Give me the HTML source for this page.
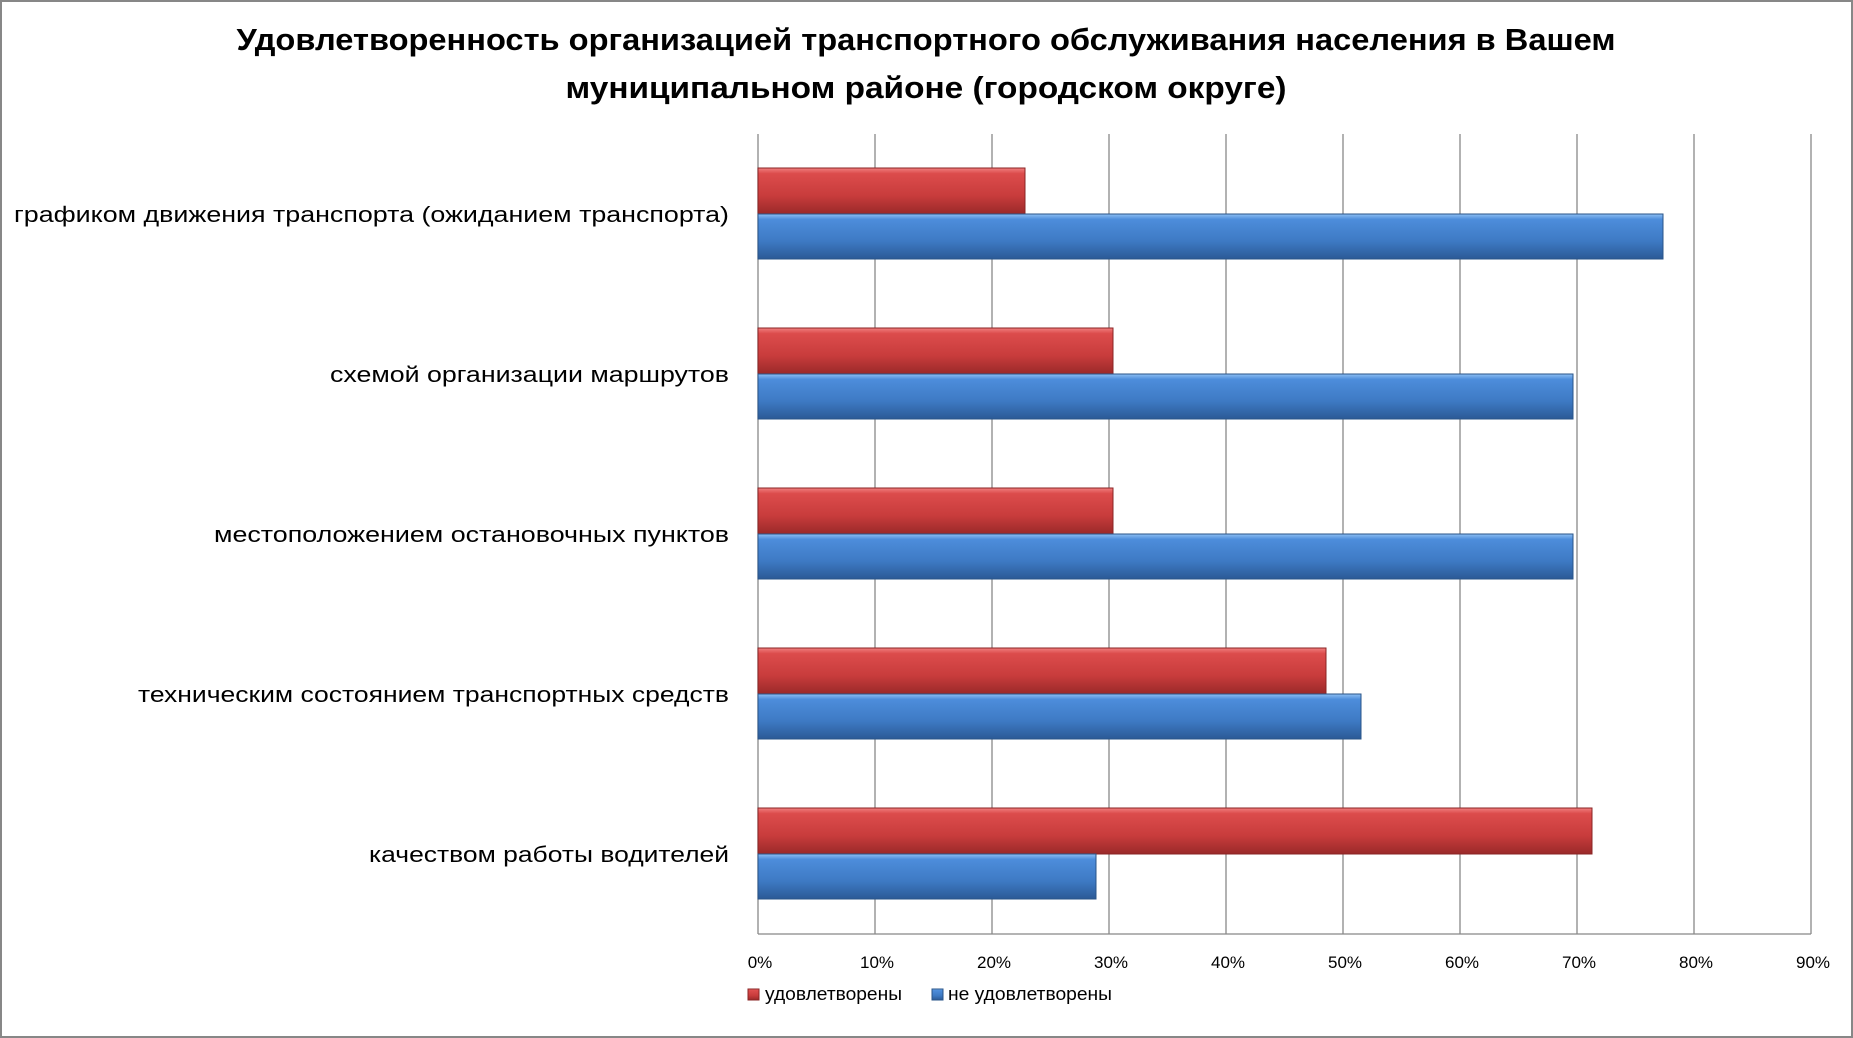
<!DOCTYPE html>
<html><head><meta charset="utf-8"><style>html,body{margin:0;padding:0;background:#fff}svg{display:block}</style></head>
<body>
<svg width="1853" height="1038" viewBox="0 0 1853 1038" xmlns="http://www.w3.org/2000/svg" font-family="Liberation Sans, DejaVu Sans, sans-serif">
<defs>
<linearGradient id="r" x1="0" y1="0" x2="0" y2="1">
<stop offset="0" stop-color="#f08080"/><stop offset="0.12" stop-color="#dc4c4c"/><stop offset="0.6" stop-color="#c83c3c"/><stop offset="1" stop-color="#9a2a2a"/></linearGradient>
<linearGradient id="b" x1="0" y1="0" x2="0" y2="1">
<stop offset="0" stop-color="#8ec0f4"/><stop offset="0.12" stop-color="#4d8ddb"/><stop offset="0.6" stop-color="#3e7ac4"/><stop offset="1" stop-color="#2c5a96"/></linearGradient>
</defs>
<rect x="1" y="1" width="1851" height="1036" fill="#fff" stroke="#878787" stroke-width="2"/>
<text x="926" y="50" font-size="31" font-weight="bold" text-anchor="middle" textLength="1379" lengthAdjust="spacingAndGlyphs">Удовлетворенность организацией транспортного обслуживания населения в Вашем</text>
<text x="926" y="98" font-size="31" font-weight="bold" text-anchor="middle" textLength="721" lengthAdjust="spacingAndGlyphs">муниципальном районе (городском округе)</text>
<g stroke="#888" stroke-width="1.3">
<line x1="758" y1="134" x2="758" y2="934"/><line x1="875" y1="134" x2="875" y2="934"/><line x1="992" y1="134" x2="992" y2="934"/><line x1="1109" y1="134" x2="1109" y2="934"/><line x1="1226" y1="134" x2="1226" y2="934"/><line x1="1343" y1="134" x2="1343" y2="934"/><line x1="1460" y1="134" x2="1460" y2="934"/><line x1="1577" y1="134" x2="1577" y2="934"/><line x1="1694" y1="134" x2="1694" y2="934"/><line x1="1811" y1="134" x2="1811" y2="934"/>
<line x1="758" y1="934" x2="1811" y2="934"/>
</g>
<g stroke-width="1">
<rect x="758" y="168" width="267" height="46" fill="url(#r)" stroke="#8a2424"/>
<rect x="758" y="214" width="905" height="45" fill="url(#b)" stroke="#2a5488"/>
<rect x="758" y="328" width="355" height="46" fill="url(#r)" stroke="#8a2424"/>
<rect x="758" y="374" width="815" height="45" fill="url(#b)" stroke="#2a5488"/>
<rect x="758" y="488" width="355" height="46" fill="url(#r)" stroke="#8a2424"/>
<rect x="758" y="534" width="815" height="45" fill="url(#b)" stroke="#2a5488"/>
<rect x="758" y="648" width="568" height="46" fill="url(#r)" stroke="#8a2424"/>
<rect x="758" y="694" width="603" height="45" fill="url(#b)" stroke="#2a5488"/>
<rect x="758" y="808" width="834" height="46" fill="url(#r)" stroke="#8a2424"/>
<rect x="758" y="854" width="338" height="45" fill="url(#b)" stroke="#2a5488"/>
</g>
<g font-size="22" fill="#000" text-anchor="end">
<text x="729" y="222" textLength="715" lengthAdjust="spacingAndGlyphs">графиком движения транспорта (ожиданием транспорта)</text>
<text x="729" y="382" textLength="399" lengthAdjust="spacingAndGlyphs">схемой организации маршрутов</text>
<text x="729" y="542" textLength="515" lengthAdjust="spacingAndGlyphs">местоположением остановочных пунктов</text>
<text x="729" y="702" textLength="591" lengthAdjust="spacingAndGlyphs">техническим состоянием транспортных средств</text>
<text x="729" y="862" textLength="360" lengthAdjust="spacingAndGlyphs">качеством работы водителей</text>
</g>
<g font-size="17" fill="#000" text-anchor="middle">
<text x="760" y="968">0%</text><text x="877" y="968">10%</text><text x="994" y="968">20%</text><text x="1111" y="968">30%</text><text x="1228" y="968">40%</text><text x="1345" y="968">50%</text><text x="1462" y="968">60%</text><text x="1579" y="968">70%</text><text x="1696" y="968">80%</text><text x="1813" y="968">90%</text>
</g>
<rect x="748" y="989" width="11" height="11" fill="url(#r)" stroke="#8a2424"/>
<text x="765" y="1000" font-size="18" textLength="137" lengthAdjust="spacingAndGlyphs">удовлетворены</text>
<rect x="932" y="989" width="11" height="11" fill="url(#b)" stroke="#2a5488"/>
<text x="948" y="1000" font-size="18" textLength="164" lengthAdjust="spacingAndGlyphs">не удовлетворены</text>
</svg>
</body></html>
